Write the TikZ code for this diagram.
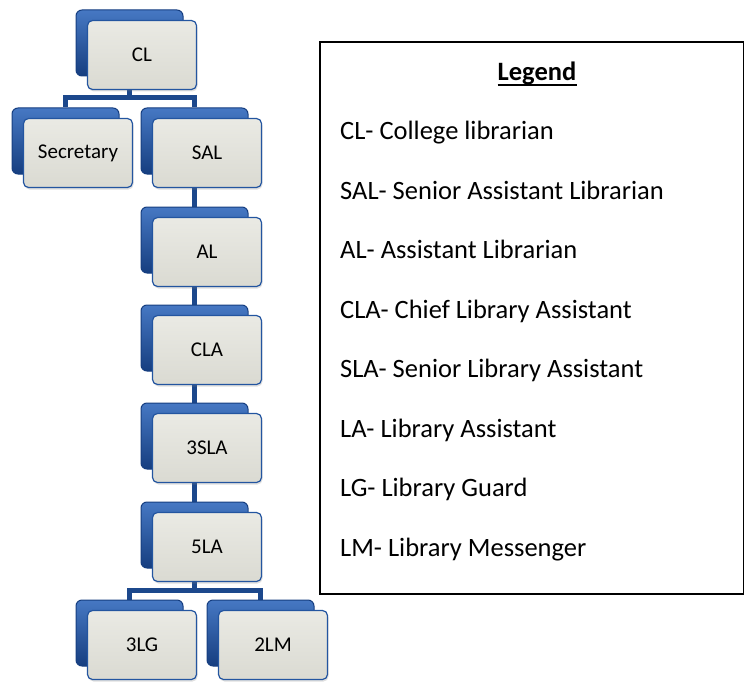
\documentclass[tikz,border=0pt]{standalone}
\usepackage{fontspec}
\setmainfont{Carlito}
\usetikzlibrary{shadows,backgrounds,calc}

\definecolor{boxfill}{RGB}{218,218,210}
\definecolor{boxtop}{RGB}{234,234,228}
\definecolor{boxedge}{RGB}{35,85,160}
\definecolor{backtop}{RGB}{70,120,195}
\definecolor{backbot}{RGB}{22,62,128}
\definecolor{linkblue}{RGB}{28,72,140}

\tikzset{
  frontbox/.style={rectangle, rounded corners=5pt, minimum width=109pt,
    minimum height=69pt, inner sep=0pt, draw=boxedge, line width=1.2pt,
    top color=boxtop, bottom color=boxfill,
    drop shadow={opacity=0.25, shadow xshift=1pt, shadow yshift=-2pt},
    font=\fontsize{21}{25}\selectfont, text=black},
  backbox/.style={rectangle, rounded corners=6pt, minimum width=107pt,
    minimum height=66pt, inner sep=0pt, draw=backbot, line width=1pt,
    top color=backtop, bottom color=backbot},
  conn/.style={draw=linkblue, line width=5pt},
  legtext/.style={anchor=base west, inner sep=0pt,
    font=\fontsize{26.5}{31}\selectfont},
}

% one unit of the chart: dark back card plus light front card
% #1 name, #2 left edge of front card, #3 top edge of front card, #4 label
\newcommand\orgunit[4]{%
  \node[backbox] (#1b) at (#2+42.5, #3+23) {};
  \node[frontbox] (#1) at (#2+55, #3+35) {#4};
}

\begin{document}
\begin{tikzpicture}[x=1pt, y=-1pt]
\useasboundingbox (0,0) rectangle (744,682);

% chart cards
\orgunit{cl}{87}{20}{CL}
\orgunit{sec}{23}{118}{Secretary}
\orgunit{sal}{152}{118}{SAL}
\orgunit{al}{152}{217}{AL}
\orgunit{cla}{152}{315}{CLA}
\orgunit{sla}{152}{413}{3SLA}
\orgunit{la}{152}{512}{5LA}
\orgunit{lg}{87}{610}{3LG}
\orgunit{lm}{218}{610}{2LM}

% connectors behind the cards
\begin{scope}[on background layer]
  \coordinate (j1) at ([yshift=-21pt]clb.south);
  \draw[conn] (clb.south) -- (j1) -| (secb.north);
  \draw[conn] (j1) -| (salb.north);
  \draw[conn] (salb.south) -- (alb.north);
  \draw[conn] (alb.south) -- (clab.north);
  \draw[conn] (clab.south) -- (slab.north);
  \draw[conn] (slab.south) -- (lab.north);
  \coordinate (j2) at ([yshift=-22pt]lab.south);
  \draw[conn] (lab.south) -- (j2) -| (lgb.north);
  \draw[conn] (j2) -| (lmb.north);
\end{scope}

% legend
\node[draw=black, line width=1.8pt, anchor=north west, inner sep=0pt,
  minimum width=424pt, minimum height=552pt] (legendbox) at (319,41) {};
\node[anchor=base, inner sep=0pt, font=\fontsize{26.5}{31}\selectfont\bfseries]
  (legtitle) at (537,81) {Legend};
\draw[line width=1.4pt] ([yshift=-4pt]legtitle.base west) -- ([yshift=-4pt]legtitle.base east);

\node[legtext] (lcl)  at (340,139.5) {CL- College librarian};
\node[legtext] (lsal) at (340,199)   {SAL- Senior Assistant Librarian};
\node[legtext] (lal)  at (340,258.5) {AL- Assistant Librarian};
\node[legtext] (lcla) at (340,318)   {CLA- Chief Library Assistant};
\node[legtext] (lsla) at (340,377.5) {SLA- Senior Library Assistant};
\node[legtext] (lla)  at (340,437)   {LA- Library Assistant};
\node[legtext] (llg)  at (340,496.5) {LG- Library Guard};
\node[legtext] (llm)  at (340,556)   {LM- Library Messenger};
\end{tikzpicture}
\end{document}
